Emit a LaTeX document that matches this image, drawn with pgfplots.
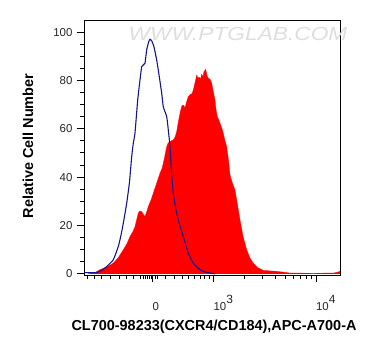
\documentclass[border=0pt]{standalone}
\usepackage{pgfplots}
\pgfplotsset{compat=1.18}
\usepackage{fontspec}
\setmainfont{Liberation Sans}
\setsansfont{Liberation Sans}
\definecolor{ctrlblue}{RGB}{20,20,140}
\newcommand{\dec}[1]{10\raisebox{7bp}{\fontsize{12}{13}\selectfont #1}}
\begin{document}
\begin{tikzpicture}
\begin{axis}[
  scale only axis,
  width=256bp, height=255bp,
  xmin=84, xmax=340,
  ymin=-0.5, ymax=105,
  axis line style={line width=0.9bp},
  tick align=outside,
  xtick pos=bottom, ytick pos=left,
  ytick={0,20,40,60,80,100},
  minor y tick num=3,
  xtick={152.5,213.5,316},
  xticklabels={0,\dec{3},\dec{4}},
  minor xtick={87.3,94.3,101.7,110,119.3,126,133.3,140.7,143,145,147,149,151,155,157,165.7,174.3,182,188.7,194.7,200,204.7,209,244.4,262.4,275.2,285.1,293.3,300.1,306.1,311.3},
  major tick length=7bp,
  minor tick length=4bp,
  tick style={black, line width=0.9bp},
  /pgf/number format/assume math mode=true,
  ticklabel style={font=\fontsize{11.5}{13}\selectfont, text=black!85},
  every x tick label/.append style={anchor=base west, xshift=-3.5bp, yshift=-28bp},
  yticklabel style={xshift=-1bp},
  xlabel={CL700-98233(CXCR4/CD184),APC-A700-A},
  ylabel={Relative Cell Number},
  label style={font=\bfseries\fontsize{14.5}{16}\selectfont},
  xlabel style={at={(axis description cs:0.508,-0.204)}, anchor=center},
  ylabel style={at={(axis description cs:-0.219,0.506)}, anchor=center, rotate=0},
]
\addplot[fill=red, draw=red, line width=0.3bp] coordinates {
(88,0) (95,0.5) (100,1.7) (107,2.8) (113.3,4.4) (118,6.5) (123.3,9.9) (127,12.5)
(130,15.4) (133,17.5) (135,19.5) (138.3,25.1) (140,26) (141.7,25.7) (143.5,24.5)
(145,23.7) (147,26) (148.3,27.8) (151,30.5) (153.3,33.3) (156.7,37.5) (160,41.6)
(162,43.5) (164,47) (166.7,52.6) (168,54) (170,54.7) (173.3,55.4) (175,56.5)
(176.7,58.8) (178,62) (180,66.4) (181.5,69) (182.7,69.8) (184,69.5) (185,68.5)
(186.5,71) (188.3,73.3) (190.7,74.3) (192,74.5) (193.3,76) (195,79) (196.7,82.2)
(198,81) (199.3,81.3) (200.5,80.5) (201.7,82.6) (203,81.5) (204,83.6) (205.7,84.6)
(207,82) (208.3,80.9) (210,80.5) (211.7,78.8) (213,76) (215,71.9) (216,68)
(217.3,65) (218.5,64) (220,62.3) (222,60) (223.3,58.1) (225,55) (226.7,52.6)
(228.5,47) (230,41) (232,38) (235,34.7) (237.5,28.5) (240,22.3) (243,15.5)
(246.7,9.9) (250,6.5) (253.3,4.4) (258,2.5) (263.3,1.4) (270,1.2) (276.7,1)
(283,0.7) (290,0.3) (300,0.3) (313.3,0.1) (325,0.3) (333.3,0.3) (337,0.6)
(340,1) (340,0)
} \closedcycle;
\addplot[color=ctrlblue, line width=1.1bp, smooth, tension=0.3] coordinates {
(84,0.5) (96.7,0.5) (102,1.5) (106.7,3.0) (113.3,5.8) (118.3,11.3) (121,16)
(123.3,20.9) (126.7,29.2) (129.5,38) (131.7,48.5) (133.3,54) (135,58.3)
(137.7,71.9) (140,80.2) (141.7,85.7) (143.3,86.4) (145,87.1) (146.7,92.6)
(148.7,96) (150,97) (151.7,96.4) (154,93.9) (156.7,88.4) (158.3,84.3)
(161.7,74.7) (163.3,69.1) (166.7,65) (168.3,59.5) (170,52.6) (171.5,42)
(173.3,33.3) (175.5,27.5) (178.3,22.3) (183.3,15.4) (188.3,8.6) (193.3,4.4)
(200,1.7) (205,0.8) (210,0.3) (215,0)
};
\end{axis}
\node[font=\itshape\fontsize{19}{21}\selectfont, text=black!13, xscale=1.2] at (154bp,241bp) {WWW.PTGLAB.COM};
\pgfresetboundingbox
\useasboundingbox (-84bp,-81bp) rectangle (290bp,275bp);
\end{tikzpicture}
\end{document}
